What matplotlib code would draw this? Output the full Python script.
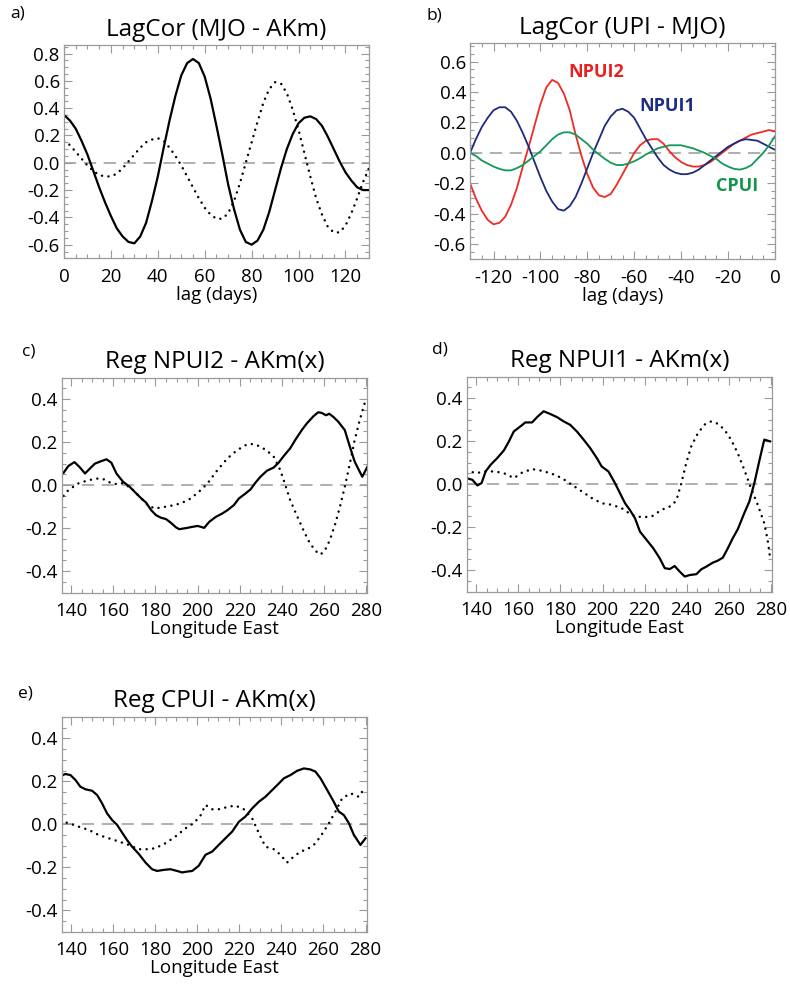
import numpy as np
import matplotlib.pyplot as plt
from matplotlib.ticker import MultipleLocator, FormatStrFormatter

plt.rcParams['font.family'] = ['Open Sans', 'DejaVu Sans']
plt.rcParams['axes.unicode_minus'] = False

# ---- a) lag correlation MJO - AKm, lag 0..130 every 2.5 days
lag_a = np.arange(0, 130.1, 2.5)
a_solid = [0.35, 0.31, 0.25, 0.16, 0.06, -0.06, -0.18, -0.29, -0.39, -0.48,
           -0.54, -0.58, -0.59, -0.54, -0.44, -0.28, -0.10, 0.11, 0.31, 0.49,
           0.64, 0.73, 0.76, 0.73, 0.63, 0.47, 0.27, 0.06, -0.16, -0.34,
           -0.49, -0.58, -0.60, -0.57, -0.49, -0.36, -0.20, -0.04, 0.10, 0.21,
           0.29, 0.33, 0.34, 0.32, 0.27, 0.19, 0.10, 0.01, -0.07, -0.13,
           -0.18, -0.20, -0.20]
a_dot = [0.16, 0.13, 0.08, 0.03, -0.02, -0.06, -0.09, -0.10, -0.10, -0.08,
         -0.04, 0.01, 0.06, 0.11, 0.15, 0.17, 0.18, 0.16, 0.11, 0.05,
         -0.02, -0.10, -0.18, -0.26, -0.33, -0.38, -0.41, -0.41, -0.37, -0.28,
         -0.15, 0.00, 0.15, 0.30, 0.44, 0.54, 0.59, 0.58, 0.51, 0.39,
         0.24, 0.07, -0.10, -0.26, -0.38, -0.47, -0.51, -0.51, -0.46, -0.37,
         -0.26, -0.14, -0.04]

# ---- b) lag correlation UPI - MJO, lag -130..0 every 2.5 days
lag_b = np.arange(-130, 0.1, 2.5)
npui2 = [-0.20, -0.30, -0.38, -0.44, -0.47, -0.46, -0.42, -0.34, -0.23, -0.09,
         0.04, 0.18, 0.32, 0.43, 0.48, 0.46, 0.39, 0.28, 0.12, -0.02,
         -0.14, -0.23, -0.28, -0.29, -0.27, -0.21, -0.14, -0.07, 0.00, 0.05,
         0.08, 0.09, 0.09, 0.06, 0.01, -0.03, -0.06, -0.08, -0.09, -0.09,
         -0.08, -0.06, -0.03, 0.00, 0.03, 0.06, 0.08, 0.10, 0.12, 0.13,
         0.14, 0.15, 0.14]
npui1 = [0.00, 0.09, 0.17, 0.23, 0.28, 0.30, 0.30, 0.27, 0.21, 0.13,
         0.04, -0.06, -0.16, -0.25, -0.32, -0.37, -0.38, -0.35, -0.29, -0.20,
         -0.10, 0.00, 0.09, 0.18, 0.24, 0.28, 0.29, 0.27, 0.23, 0.16,
         0.09, 0.03, -0.03, -0.08, -0.11, -0.13, -0.14, -0.14, -0.13, -0.11,
         -0.08, -0.05, -0.02, 0.01, 0.04, 0.06, 0.08, 0.09, 0.085, 0.08,
         0.06, 0.04, 0.02]
cpui = [0.00, -0.02, -0.05, -0.07, -0.09, -0.105, -0.115, -0.115, -0.10, -0.08,
        -0.05, -0.02, 0.01, 0.05, 0.09, 0.12, 0.135, 0.135, 0.12, 0.09,
        0.06, 0.02, -0.01, -0.04, -0.065, -0.08, -0.08, -0.07, -0.055, -0.035,
        -0.01, 0.01, 0.03, 0.04, 0.05, 0.05, 0.05, 0.04, 0.03, 0.015,
        0.00, -0.02, -0.04, -0.07, -0.09, -0.105, -0.11, -0.10, -0.08, -0.04,
        0.00, 0.05, 0.11]

# ---- c) Reg NPUI2 - AKm(x)
lon_c_solid = [136.4, 138.7, 141.6, 144.2, 146.6, 149.0, 151.3, 154.4, 156.8, 159.1,
               161.5, 164.6, 167.8, 170.1, 173.3, 175.6, 178.0, 180.3, 182.7, 185.0,
               187.4, 189.8, 191.3, 194.5, 197.6, 200.0, 201.5, 203.1, 205.5, 208.6,
               211.7, 214.1, 217.2, 219.6, 222.7, 225.1, 227.4, 229.8, 232.9, 236.1,
               238.4, 240.8, 243.9, 246.3, 249.4, 251.8, 254.9, 257.2, 258.8, 260.9,
               262.4, 264.3, 266.7, 269.8, 272.2, 274.5, 276.9, 278.1, 280.5]
c_solid = [0.057, 0.089, 0.107, 0.082, 0.054, 0.078, 0.100, 0.112, 0.120, 0.104,
           0.054, 0.016, -0.008, -0.031, -0.062, -0.082, -0.117, -0.140, -0.152, -0.158,
           -0.176, -0.197, -0.205, -0.200, -0.194, -0.190, -0.194, -0.199, -0.171, -0.148,
           -0.132, -0.117, -0.093, -0.062, -0.039, -0.020, 0.011, 0.039, 0.067, 0.082,
           0.104, 0.135, 0.171, 0.210, 0.256, 0.287, 0.320, 0.339, 0.336, 0.325,
           0.332, 0.318, 0.295, 0.256, 0.179, 0.109, 0.062, 0.039, 0.085]
lon_c_dot = [136.4, 138.7, 143.5, 148.2, 152.9, 156.0, 159.1, 161.5, 163.9, 166.2,
             169.4, 173.3, 176.4, 179.6, 182.7, 187.4, 192.1, 196.8, 201.5, 204.7,
             209.4, 214.1, 218.8, 223.5, 226.6, 229.8, 232.9, 236.1, 239.2, 241.6,
             243.9, 247.0, 250.2, 253.3, 256.5, 258.3, 260.4, 262.7, 265.1, 267.5,
             269.8, 272.2, 274.5, 276.9, 279.2, 280.5]
c_dot = [-0.050, -0.023, 0.008, 0.023, 0.031, 0.026, 0.008, 0.005, 0.010, 0.000,
         -0.023, -0.062, -0.093, -0.109, -0.104, -0.096, -0.085, -0.062, -0.023, 0.008,
         0.070, 0.124, 0.163, 0.190, 0.191, 0.179, 0.160, 0.132, 0.070, 0.000,
         -0.070, -0.140, -0.210, -0.272, -0.311, -0.323, -0.303, -0.256, -0.186, -0.101,
         -0.008, 0.100, 0.210, 0.303, 0.380, 0.404]

# ---- d) Reg NPUI1 - AKm(x)
lon_d_solid = [135.3, 138.1, 140.5, 142.5, 144.4, 146.8, 149.9, 153.1, 155.5, 157.8,
               161.0, 163.3, 166.5, 168.9, 172.0, 175.2, 178.3, 181.5, 184.6, 187.8,
               191.0, 194.1, 197.3, 199.6, 202.8, 205.9, 208.3, 210.7, 213.0, 215.4,
               217.8, 220.9, 224.1, 227.2, 229.6, 232.0, 234.3, 236.7, 239.1, 241.4,
               244.6, 247.0, 249.3, 252.5, 254.8, 257.2, 259.6, 261.9, 264.3, 267.4,
               269.8, 272.2, 274.5, 276.9, 279.6]
d_solid = [0.028, 0.020, -0.006, 0.005, 0.059, 0.090, 0.121, 0.157, 0.199, 0.245,
           0.269, 0.287, 0.287, 0.312, 0.339, 0.326, 0.312, 0.292, 0.276, 0.245,
           0.207, 0.168, 0.121, 0.082, 0.059, 0.005, -0.042, -0.089, -0.120, -0.158,
           -0.221, -0.259, -0.298, -0.345, -0.391, -0.395, -0.381, -0.407, -0.430, -0.423,
           -0.419, -0.396, -0.384, -0.365, -0.356, -0.342, -0.298, -0.252, -0.210, -0.135,
           -0.081, 0.005, 0.106, 0.207, 0.199]
lon_d_dot = [135.3, 139.7, 144.4, 149.1, 153.9, 157.8, 161.8, 166.5, 171.2, 176.0,
             180.7, 185.4, 190.2, 194.9, 199.6, 204.4, 209.1, 213.8, 218.5, 223.3,
             228.0, 232.7, 235.1, 237.5, 239.8, 242.2, 245.4, 248.5, 251.7, 254.8,
             258.0, 261.1, 264.3, 267.4, 270.6, 273.8, 276.9, 278.5, 279.6]
d_dot = [0.064, 0.051, 0.059, 0.059, 0.048, 0.028, 0.054, 0.070, 0.062, 0.048,
         0.028, -0.003, -0.034, -0.065, -0.089, -0.096, -0.112, -0.143, -0.154, -0.151,
         -0.120, -0.101, -0.076, 0.005, 0.098, 0.176, 0.238, 0.277, 0.292, 0.281,
         0.253, 0.207, 0.144, 0.067, -0.019, -0.096, -0.182, -0.259, -0.337]

# ---- e) Reg CPUI - AKm(x)
lon_e_solid = [134.9, 137.3, 139.7, 142.1, 144.4, 146.8, 150.0, 152.4, 154.7, 157.1,
               159.5, 161.9, 164.3, 166.6, 169.0, 172.2, 175.4, 178.5, 180.9, 184.1,
               187.2, 190.4, 192.8, 195.2, 197.6, 200.7, 203.9, 207.1, 210.2, 213.4,
               216.6, 219.8, 222.9, 226.1, 229.3, 232.4, 235.6, 238.8, 241.2, 244.3,
               247.5, 250.7, 253.8, 256.2, 258.6, 261.8, 264.9, 267.3, 269.7, 272.1,
               274.5, 277.6, 280.0]
e_solid = [0.224, 0.234, 0.229, 0.206, 0.175, 0.163, 0.156, 0.136, 0.098, 0.051,
           0.020, -0.003, -0.039, -0.073, -0.104, -0.138, -0.178, -0.209, -0.217, -0.212,
           -0.209, -0.217, -0.224, -0.220, -0.217, -0.193, -0.142, -0.127, -0.096, -0.065,
           -0.034, 0.012, 0.036, 0.074, 0.105, 0.128, 0.159, 0.190, 0.214, 0.229,
           0.249, 0.260, 0.255, 0.245, 0.214, 0.159, 0.105, 0.059, 0.043, 0.005,
           -0.050, -0.096, -0.065]
lon_e_dot = [134.9, 138.9, 143.6, 148.4, 153.2, 157.9, 162.7, 167.4, 172.2, 176.9,
             180.1, 184.9, 189.6, 194.4, 198.3, 201.5, 203.9, 207.1, 210.2, 215.0,
             218.2, 222.1, 226.1, 229.3, 232.4, 236.4, 239.6, 242.7, 245.9, 249.1,
             252.3, 255.4, 258.6, 262.6, 265.7, 268.9, 272.9, 276.8, 280.0]
e_dot = [0.015, 0.005, -0.011, -0.026, -0.050, -0.065, -0.080, -0.096, -0.116, -0.116,
         -0.111, -0.088, -0.057, -0.019, 0.005, 0.040, 0.090, 0.070, 0.070, 0.082,
         0.087, 0.070, 0.028, -0.042, -0.104, -0.116, -0.142, -0.178, -0.150, -0.127,
         -0.116, -0.096, -0.057, 0.005, 0.059, 0.121, 0.144, 0.128, 0.175]

GRAY = '#9a9a9a'
DOT = dict(color='black', lw=1.8, linestyle=(0, (0.01, 2.6)), dash_capstyle='round')
TICK_FS = 13.5
TITLE_FS = 17.5


def style_ax(ax, xlim, ylim, xmajor, xminor):
    ax.set_xlim(*xlim)
    ax.set_ylim(*ylim)
    ax.xaxis.set_major_locator(MultipleLocator(xmajor))
    ax.xaxis.set_minor_locator(MultipleLocator(xminor))
    ax.yaxis.set_major_locator(MultipleLocator(0.2))
    ax.yaxis.set_minor_locator(MultipleLocator(0.05))
    ax.yaxis.set_major_formatter(FormatStrFormatter('%.1f'))
    ax.tick_params(which='both', direction='in', top=True, right=True,
                   color=GRAY, labelsize=TICK_FS)
    ax.tick_params(which='major', length=6, width=0.8)
    ax.tick_params(which='minor', length=3, width=0.8)
    ax.tick_params(axis='x', pad=7)
    ax.tick_params(axis='y', pad=3)
    for s in ax.spines.values():
        s.set_color(GRAY)
        s.set_linewidth(0.9)
    ax.axhline(0, color=GRAY, lw=1.1, dashes=(8, 5), zorder=1)


fig = plt.figure(figsize=(7.9, 9.86), dpi=100)

# a)
ax = fig.add_axes([0.081, 0.738, 0.386, 0.216])
style_ax(ax, (0, 130), (-0.7, 0.86), 20, 5)
ax.plot(lag_a, a_solid, color='black', lw=1.6)
ax.plot(lag_a, a_dot, **DOT)
ax.set_title('LagCor (MJO - AKm)', fontsize=TITLE_FS, pad=7)
ax.set_xlabel('lag (days)', fontsize=TICK_FS, labelpad=0)

# b)
ax = fig.add_axes([0.595, 0.737, 0.386, 0.219])
style_ax(ax, (-130, 0), (-0.7, 0.72), 20, 5)
ax.plot(lag_b, npui2, color='#ee2a24', lw=1.3)
ax.plot(lag_b, npui1, color='#1e2a7c', lw=1.3)
ax.plot(lag_b, cpui, color='#14985a', lw=1.3)
ax.text(-76, 0.53, 'NPUI2', color='#ea1f1f', fontsize=13, fontweight='bold', ha='center', va='center')
ax.text(-46, 0.31, 'NPUI1', color='#1b2d86', fontsize=13, fontweight='bold', ha='center', va='center')
ax.text(-16, -0.22, 'CPUI', color='#12964a', fontsize=13, fontweight='bold', ha='center', va='center')
ax.set_title('LagCor (UPI - MJO)', fontsize=TITLE_FS, pad=7)
ax.set_xlabel('lag (days)', fontsize=TICK_FS, labelpad=0)

# c)
ax = fig.add_axes([0.078, 0.399, 0.387, 0.218])
style_ax(ax, (135.5, 280.5), (-0.5, 0.5), 20, 5)
ax.plot(lon_c_solid, c_solid, color='black', lw=1.6)
ax.plot(lon_c_dot, c_dot, **DOT)
ax.set_title('Reg NPUI2 - AKm(x)', fontsize=TITLE_FS, pad=7)
ax.set_xlabel('Longitude East', fontsize=TICK_FS, labelpad=0)

# d)
ax = fig.add_axes([0.591, 0.400, 0.386, 0.218])
style_ax(ax, (135.5, 280.5), (-0.5, 0.5), 20, 5)
ax.plot(lon_d_solid, d_solid, color='black', lw=1.6)
ax.plot(lon_d_dot, d_dot, **DOT)
ax.set_title('Reg NPUI1 - AKm(x)', fontsize=TITLE_FS, pad=7)
ax.set_xlabel('Longitude East', fontsize=TICK_FS, labelpad=0)

# e)
ax = fig.add_axes([0.078, 0.055, 0.386, 0.218])
style_ax(ax, (135.5, 280.5), (-0.5, 0.5), 20, 5)
ax.plot(lon_e_solid, e_solid, color='black', lw=1.6)
ax.plot(lon_e_dot, e_dot, **DOT)
ax.set_title('Reg CPUI - AKm(x)', fontsize=TITLE_FS, pad=7)
ax.set_xlabel('Longitude East', fontsize=TICK_FS, labelpad=0)

# panel letters
for lab, x, y in [('a)', 10, 14), ('b)', 427, 15), ('c)', 22, 352), ('d)', 432, 349), ('e)', 18, 693)]:
    fig.text(x / 790, 1 - y / 986, lab, fontsize=12.5, ha='left', va='center')

fig.savefig('out.png', dpi=100)
